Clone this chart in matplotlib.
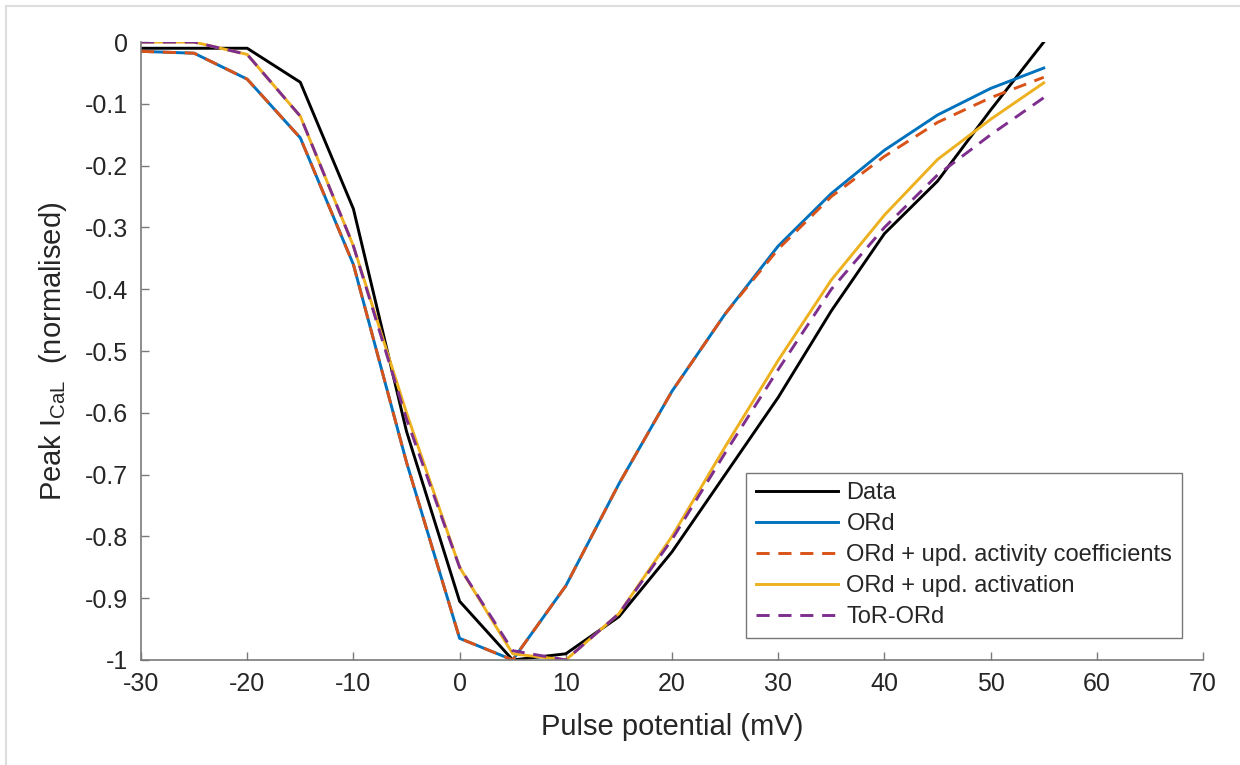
import numpy as np
import matplotlib.pyplot as plt
from matplotlib.lines import Line2D

plt.rcParams['font.family'] = ['Liberation Sans', 'DejaVu Sans']
plt.rcParams['mathtext.fontset'] = 'custom'
plt.rcParams['mathtext.rm'] = 'Liberation Sans'
plt.rcParams['axes.unicode_minus'] = False

# pulse potentials (mV)
v = [-30, -25, -20, -15, -10, -5, 0, 5, 10, 15, 20, 25, 30, 35, 40, 45, 50, 55]

data = [-0.01, -0.01, -0.01, -0.065, -0.27, -0.63, -0.905, -1.0, -0.99, -0.93,
        -0.825, -0.70, -0.575, -0.435, -0.31, -0.225, -0.11, 0.0]
ord_ = [-0.015, -0.018, -0.06, -0.155, -0.36, -0.68, -0.965, -1.0, -0.88, -0.715,
        -0.565, -0.44, -0.33, -0.245, -0.175, -0.118, -0.075, -0.042]
ord_act_coef = [-0.015, -0.018, -0.06, -0.155, -0.36, -0.68, -0.965, -1.0, -0.88, -0.715,
                -0.565, -0.44, -0.335, -0.25, -0.185, -0.13, -0.09, -0.057]
ord_activation = [0.0, 0.0, -0.02, -0.12, -0.33, -0.60, -0.85, -0.99, -1.0, -0.925,
                  -0.80, -0.655, -0.515, -0.385, -0.28, -0.19, -0.125, -0.066]
tor_ord = [0.0, 0.0, -0.02, -0.12, -0.33, -0.61, -0.85, -0.985, -1.0, -0.925,
           -0.805, -0.665, -0.53, -0.40, -0.30, -0.215, -0.15, -0.09]

labels = ["Data", "ORd", "ORd + upd. activity coefficients",
          "ORd + upd. activation", "ToR-ORd"]

fig = plt.figure(figsize=(12.4, 7.65), dpi=100)
ax = fig.add_axes([0.1137, 0.1373, 0.8565, 0.8077])

lw = 2.1
dash = (0, (4.5, 3))
ax.plot(v, data, color='black', lw=lw, label=labels[0])
ax.plot(v, ord_, color='#0072BD', lw=lw, label=labels[1])
ax.plot(v, ord_act_coef, color='#D95319', lw=lw, ls=dash, label=labels[2])
ax.plot(v, ord_activation, color='#EDB120', lw=lw, label=labels[3])
ax.plot(v, tor_ord, color='#7E2F8E', lw=lw, ls=dash, label=labels[4])

ax.set_xlim(-30, 70)
ax.set_ylim(-1, 0)
ax.set_xticks(np.arange(-30, 71, 10))
yt = np.round(np.arange(-1.0, 0.01, 0.1), 1)
ax.set_yticks(yt)
ax.set_yticklabels(['-1' if t == -1 else ('0' if t == 0 else f'{t:.1f}') for t in yt])

for s in ['top', 'right']:
    ax.spines[s].set_visible(False)
for s in ['left', 'bottom']:
    ax.spines[s].set_color('#7a7a7a')
    ax.spines[s].set_linewidth(1.2)
ax.tick_params(direction='in', length=6, width=1, color='#7a7a7a',
               labelsize=18, labelcolor='#262626', pad=9)

ax.set_xlabel('Pulse potential (mV)', fontsize=21, color='#262626', labelpad=12)
ax.set_ylabel(r'Peak I$_{\mathrm{CaL}}$  (normalised)', fontsize=21,
              color='#262626', labelpad=12)

leg = ax.legend(loc='lower right', bbox_to_anchor=(0.98, 0.036), fontsize=17,
                frameon=True, fancybox=False, handlelength=3.5, handletextpad=0.35,
                borderpad=0.4, labelspacing=0.38, borderaxespad=0)
leg.get_frame().set_edgecolor('#555555')
leg.get_frame().set_linewidth(1.0)
for t in leg.get_texts():
    t.set_color('#262626')

# light frame around the figure (top and left edges visible)
fig.add_artist(Line2D([6 / 1240, 1.0], [1 - 6 / 765, 1 - 6 / 765],
                      transform=fig.transFigure, color='#dddddd', lw=1.5))
fig.add_artist(Line2D([6 / 1240, 6 / 1240], [0.0, 1 - 6 / 765],
                      transform=fig.transFigure, color='#dddddd', lw=1.5))

fig.savefig('out.png', dpi=100)
